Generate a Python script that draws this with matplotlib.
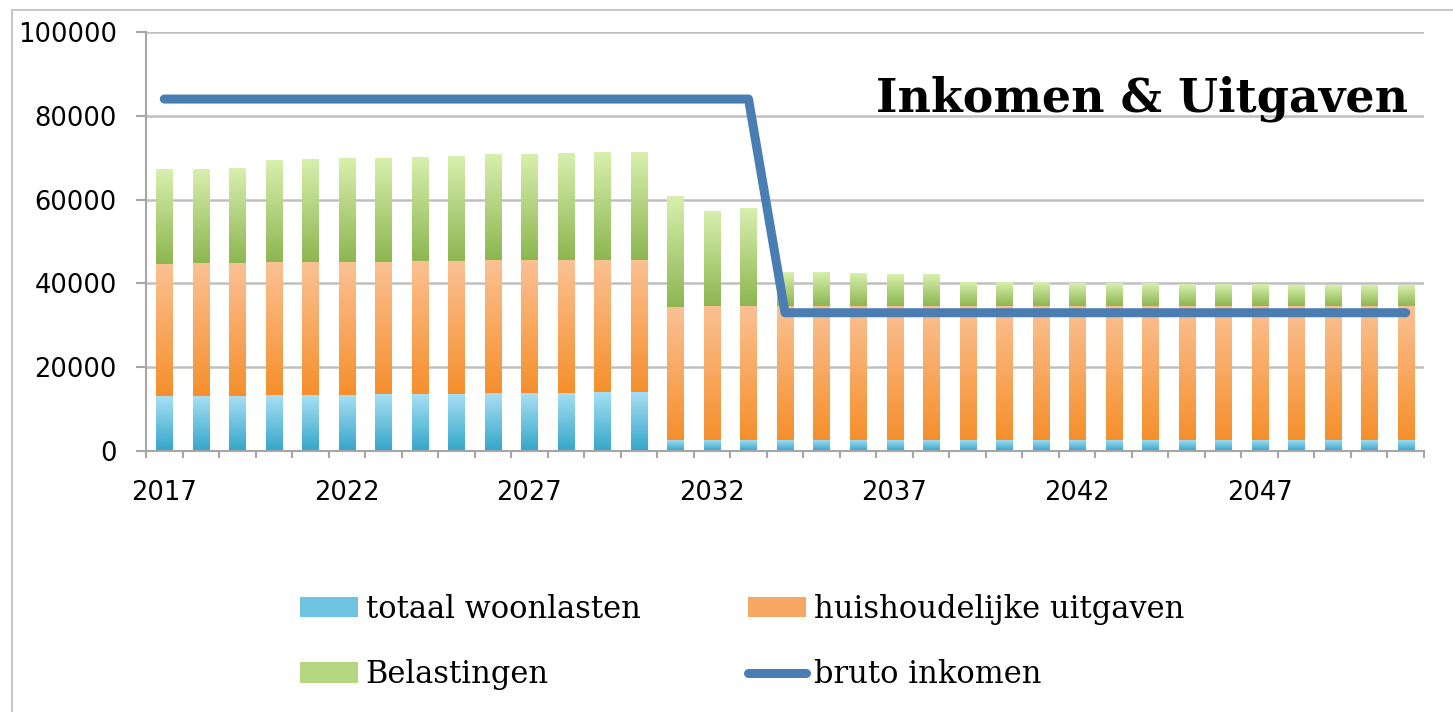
import numpy as np
import matplotlib
matplotlib.use("Agg")
import matplotlib.pyplot as plt
from matplotlib.colors import LinearSegmentedColormap
from matplotlib.patches import Patch, Rectangle
from matplotlib.lines import Line2D

# Data
years = list(range(2017, 2052))
woonlasten = [13100, 13200, 13200, 13300, 13300, 13400, 13500, 13500, 13700, 13800,
              13800, 13900, 14000, 14100,
              2700, 2700, 2700, 2700, 2700, 2700, 2700, 2700, 2700, 2700,
              2700, 2700, 2700, 2700, 2700, 2700, 2700, 2700, 2700, 2700, 2700]
totaal_huis = [44600, 44800, 44900, 45000, 45000, 45100, 45200, 45300, 45400, 45500,
               45600, 45600, 45700, 45700,
               34300, 34500, 34500, 34500, 34500, 34500, 34500, 34500, 34500, 34500,
               34500, 34500, 34500, 34500, 34500, 34500, 34500, 34500, 34500, 34500, 34500]
totaal_all = [67200, 67100, 67500, 69200, 69400, 69700, 69800, 70100, 70400, 70600,
              70800, 71000, 71300, 71400,
              60700, 57100, 57700, 42600, 42400, 42200, 42000, 42000, 40200, 40100,
              40000, 39900, 39900, 39800, 39700, 39700, 39600, 39500, 39500, 39400, 39300]
bruto_inkomen = [84000] * 17 + [33000] * 18
tick_years = [2017, 2022, 2027, 2032, 2037, 2042, 2047]

huishoudelijk = [t - w for t, w in zip(totaal_huis, woonlasten)]
belastingen = [a - t for a, t in zip(totaal_all, totaal_huis)]

fig = plt.figure(figsize=(14.53, 7.12), dpi=100)
ax = fig.add_axes([146 / 1453, 261 / 712, (1424 - 146) / 1453, (451 - 32) / 712])

x = np.arange(len(years))
w = 0.44


def gradient_bars(bars, top, bottom):
    # fill every bar with a vertical gradient, Excel style
    cmap = LinearSegmentedColormap.from_list("g", [bottom, top])
    grad = np.linspace(0, 1, 128).reshape(-1, 1)
    for b in bars:
        x0, y0 = b.get_x(), b.get_y()
        ax.imshow(grad, extent=[x0, x0 + b.get_width(), y0, y0 + b.get_height()],
                  origin="lower", aspect="auto", cmap=cmap, zorder=2,
                  interpolation="bilinear")


b1 = ax.bar(x, woonlasten, w, color="#6cc4e0", zorder=1)
b2 = ax.bar(x, huishoudelijk, w, bottom=woonlasten, color="#f7a862", zorder=1)
b3 = ax.bar(x, belastingen, w, bottom=totaal_huis, color="#b4d680", zorder=1)
gradient_bars(b1, "#a8e0f3", "#34a6ca")
gradient_bars(b2, "#fbc193", "#f58f2c")
gradient_bars(b3, "#d8efae", "#8db650")

ax.plot(x, bruto_inkomen, color="#4a7db1", lw=6.5, solid_capstyle="round",
        solid_joinstyle="round", zorder=4)

ax.set_xlim(-0.5, len(years) - 0.5)
ax.set_ylim(0, 100000)
ax.set_yticks(range(0, 100001, 20000))
ax.set_xticks([years.index(t) for t in tick_years])
ax.set_xticklabels([str(t) for t in tick_years])
ax.set_xticks(np.arange(-0.5, len(years), 1), minor=True)

ax.grid(axis="y", color="#c0c0c0", lw=1.8, zorder=0)
ax.set_axisbelow(True)
for s in ["top", "right"]:
    ax.spines[s].set_visible(False)
for s in ["left", "bottom"]:
    ax.spines[s].set_color("#a6a6a6")
    ax.spines[s].set_linewidth(1.5)

ax.tick_params(axis="y", length=7, width=1.5, color="#a6a6a6", pad=14,
               labelsize=18.5)
ax.tick_params(axis="x", which="major", length=0, pad=21, labelsize=18.5)
ax.tick_params(axis="x", which="minor", length=5, width=1.5, color="#a6a6a6")

fig.text(1408 / 1453, (712 - 111) / 712, "Inkomen & Uitgaven", ha="right",
         va="baseline", fontsize=33, fontweight="bold", family="DejaVu Serif")

h_woon = Patch(facecolor="#6cc4e0", label="totaal woonlasten")
h_bel = Patch(facecolor="#b4d680", label="Belastingen")
h_huis = Patch(facecolor="#f7a862", label="huishoudelijke uitgaven")
h_bruto = Line2D([], [], color="#4a7db1", lw=6.5, solid_capstyle="round",
                 label="bruto inkomen")
leg_font = {"family": "DejaVu Serif", "size": 22}
for hs, x_left in [([h_woon, h_bel], 300), ([h_huis, h_bruto], 748)]:
    fig.legend(handles=hs, loc="upper left", prop=leg_font,
               bbox_to_anchor=(x_left / 1453, (712 - 594) / 712), frameon=False,
               borderpad=0, borderaxespad=0, handlelength=1.9, handleheight=0.65,
               handletextpad=0.25, labelspacing=1.12)

fig.add_artist(Rectangle((12 / 1453, -0.1), 2, (712 - 10) / 712 + 0.1,
                         transform=fig.transFigure, fill=False,
                         edgecolor="#c8c8c8", lw=1.5))

fig.savefig("out.png", dpi=100)
